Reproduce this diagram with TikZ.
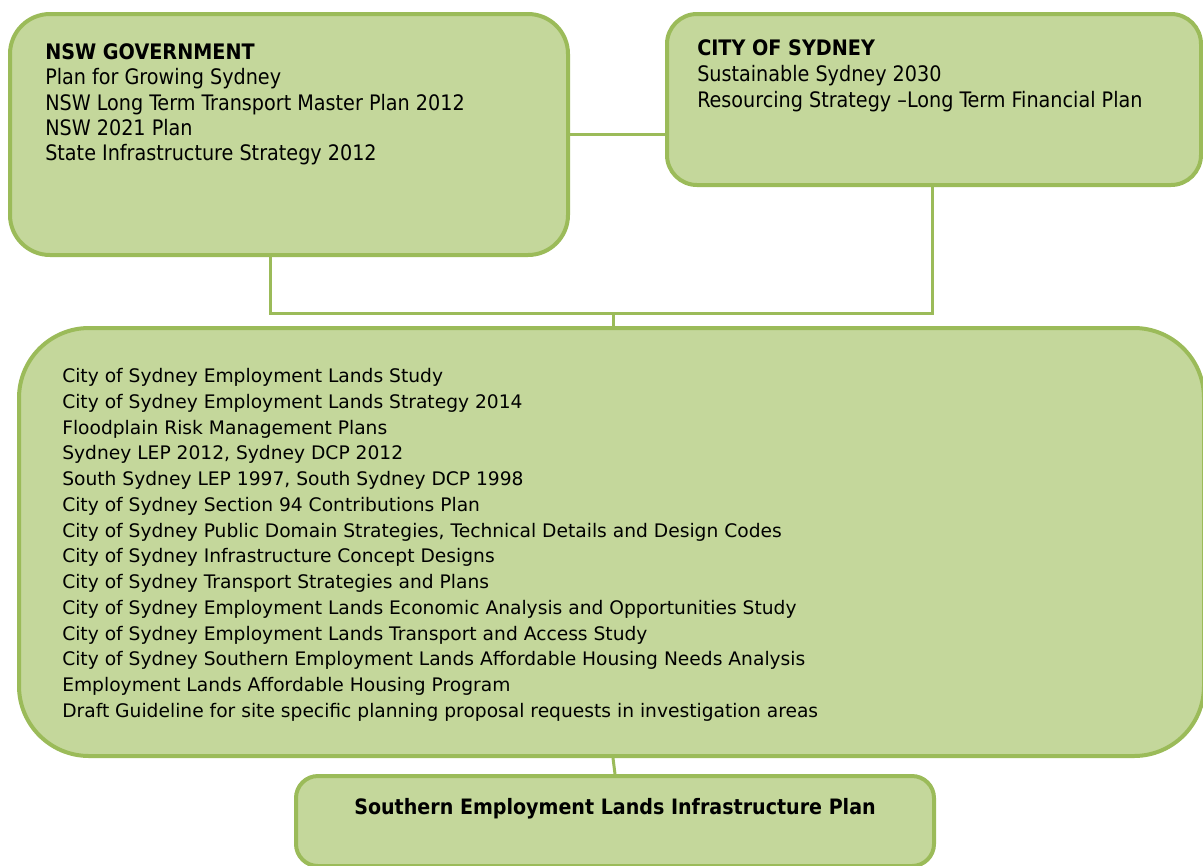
\documentclass[tikz,border=0pt]{standalone}
\usepackage{fontspec}
\setmainfont{DejaVu Sans}
\newfontfamily\condfont{DejaVu Sans Condensed}
\usetikzlibrary{positioning}

\definecolor{boxfill}{HTML}{C4D79B}
\definecolor{boxline}{HTML}{9BBB59}

\begin{document}
\begin{tikzpicture}[x=0.75pt, y=-0.75pt, node distance=1mm,
    box/.style={draw=boxline, fill=boxfill, line width=3pt, inner sep=0pt},
    link/.style={draw=boxline, line width=2.25pt},
    toptext/.style={inner sep=0pt, align=left, anchor=north west,
        font=\condfont\fontsize{16}{19.1}\selectfont},
    listtext/.style={inner sep=0pt, align=left, anchor=north west,
        font=\fontsize{14}{19.33}\selectfont}]
    \useasboundingbox (0,0) rectangle (1203,865);

    % boxes
    \node[box, rounded corners=30pt, minimum width=418.5pt, minimum height=180.75pt] (NSW) at (289,134.5) {};
    \node[box, rounded corners=22.5pt, minimum width=400.5pt, minimum height=128.25pt] (City) at (934,99.5) {};
    \node[box, rounded corners=52.5pt, minimum width=888.75pt, minimum height=321pt] (Plans) at (611.5,542) {};
    \node[box, rounded corners=16.5pt, minimum width=478.5pt, minimum height=67.5pt] (SELIP) at (615,821) {};

    % texts
    \node[toptext, below right = 23.25pt and 27.75pt of NSW.north west] (NSWtext)
        {\textbf{NSW GOVERNMENT}\\
         Plan for Growing Sydney\\
         NSW Long Term Transport Master Plan 2012\\
         NSW 2021 Plan\\
         State Infrastructure Strategy 2012};
    \node[toptext, font=\condfont\fontsize{16}{19.5}\selectfont,
          below right = 20.25pt and 24pt of City.north west] (Citytext)
        {\textbf{CITY OF SYDNEY}\\
         Sustainable Sydney 2030\\
         Resourcing Strategy \textendash Long Term Financial Plan};
    \node[listtext, below right = 31.5pt and 33.75pt of Plans.north west] (Planstext)
        {City of Sydney Employment Lands Study\\
         City of Sydney Employment Lands Strategy 2014\\
         Floodplain Risk Management Plans\\
         Sydney LEP 2012, Sydney DCP 2012\\
         South Sydney LEP 1997, South Sydney DCP 1998\\
         City of Sydney Section 94 Contributions Plan\\
         City of Sydney Public Domain Strategies, Technical Details and Design Codes\\
         City of Sydney Infrastructure Concept Designs\\
         City of Sydney Transport Strategies and Plans\\
         City of Sydney Employment Lands Economic Analysis and Opportunities Study\\
         City of Sydney Employment Lands Transport and Access Study\\
         City of Sydney Southern Employment Lands Affordable Housing Needs Analysis\\
         Employment Lands Affordable Housing Program\\
         Draft Guideline for site specific planning proposal requests in investigation areas};
    \node[inner sep=0pt, anchor=north, font=\condfont\bfseries\fontsize{15.9}{18}\selectfont,
          below = 18pt of SELIP.north] (SELIPtext)
        {Southern Employment Lands Infrastructure Plan};

    % connectors
    \coordinate (jL) at (270,313);
    \coordinate (jR) at (932,313);
    \coordinate (jM) at (613,313);
    \draw[link] (NSW.east) -- (NSW.east -| City.west);
    \draw[link] (NSW.south -| jL) -- (jL) -- (jR) -- (City.south -| jR);
    \draw[link] (jM) -- (Plans.north -| jM);
    \draw[link] (Plans.south -| jM) -- (SELIP.north);
\end{tikzpicture}
\end{document}
